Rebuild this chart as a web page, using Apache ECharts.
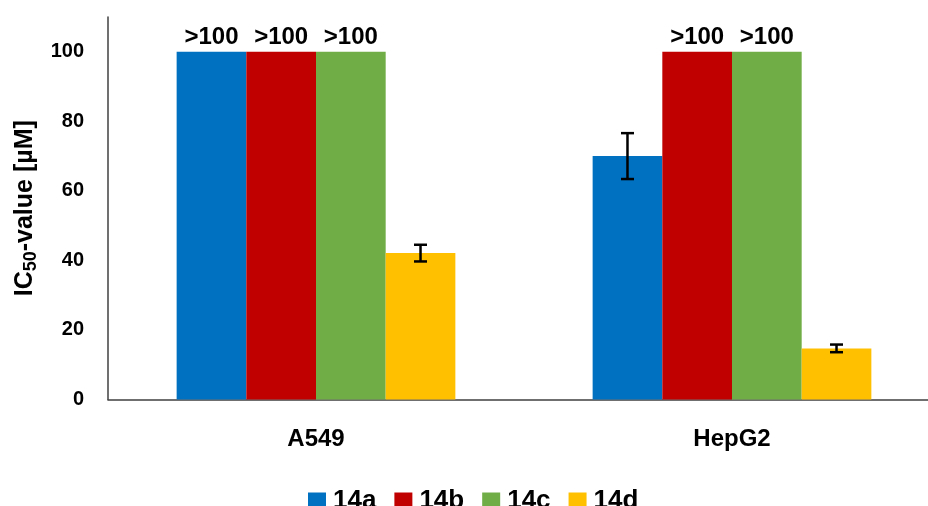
<!DOCTYPE html>
<html>
<head>
<meta charset="utf-8">
<script src="https://cdn.jsdelivr.net/npm/echarts@6/dist/echarts.min.js"></script>
<style>
  html, body { margin: 0; padding: 0; background: #fff; }
  #chart { width: 928px; height: 506px; }
</style>
</head>
<body>
<div id="chart"></div>
<script>
// Cell lines on the x axis
const categories = ['A549', 'HepG2'];
// Compounds (one bar series each)
const compounds = ['14a', '14b', '14c', '14d'];
const colors = ['#0070C0', '#C00000', '#70AD47', '#FFC000'];

// IC50 values in µM per cell line (100 = upper limit of the assay)
const values14a = [100, 70];
const values14b = [100, 100];
const values14c = [100, 100];
const values14d = [42.1, 14.7];

// Standard deviations (0 = no error bar)
const err14a = [0, 6.6];
const err14b = [0, 0];
const err14c = [0, 0];
const err14d = [2.4, 1.1];

// Text shown above bars that hit the upper limit
const label14a = ['>100', ''];
const label14b = ['>100', '>100'];
const label14c = ['>100', '>100'];
const label14d = ['', ''];

// Y axis ticks
const yMin = 0;
const yMax = 110;
const yStep = 20;

const allValues = [values14a, values14b, values14c, values14d];
const allErrors = [err14a, err14b, err14c, err14d];
const allLabels = [label14a, label14b, label14c, label14d];

const FONT = 'Liberation Sans';
const CAT_GAP = 0.33;

const barSeries = compounds.map((name, s) => ({
  name: name,
  type: 'bar',
  barGap: 0,
  barCategoryGap: (CAT_GAP * 100) + '%',
  itemStyle: { color: colors[s] },
  data: allValues[s],
  label: {
    show: true,
    position: 'top',
    distance: 2,
    fontFamily: FONT,
    fontWeight: 'bold',
    fontSize: 24,
    color: '#000',
    formatter: p => allLabels[s][p.dataIndex]
  },
  z: 2
}));

// Error bars: [category index, value, error, series index]
const errData = [];
compounds.forEach((name, s) => {
  categories.forEach((c, i) => {
    if (allErrors[s][i] > 0) errData.push([i, allValues[s][i], allErrors[s][i], s]);
  });
});

const errorSeries = {
  type: 'custom',
  name: 'error',
  data: errData,
  encode: { x: 0, y: 1 },
  z: 5,
  silent: true,
  renderItem: function (params, api) {
    const ci = api.value(0);
    const v = api.value(1);
    const e = api.value(2);
    const s = api.value(3);
    const band = api.size([1, 0])[0];
    const barW = band * (1 - CAT_GAP) / compounds.length;
    const center = api.coord([ci, v]);
    const x = center[0] + (s - (compounds.length - 1) / 2) * barW;
    const hi = api.coord([ci, v + e])[1];
    const lo = api.coord([ci, v - e])[1];
    const cap = 6.5;
    const style = { stroke: '#000', lineWidth: 2.5 };
    return {
      type: 'group',
      children: [
        { type: 'line', shape: { x1: x, y1: hi, x2: x, y2: lo }, style: style },
        { type: 'line', shape: { x1: x - cap, y1: hi, x2: x + cap, y2: hi }, style: style },
        { type: 'line', shape: { x1: x - cap, y1: lo, x2: x + cap, y2: lo }, style: style }
      ]
    };
  }
};

const chart = echarts.init(document.getElementById('chart'), null, { renderer: 'canvas' });
chart.setOption({
  backgroundColor: '#fff',
  animation: false,
  // The plot area runs slightly past the right edge of the canvas
  grid: { left: 108, width: 832, top: 17, bottom: 106.5, containLabel: false, outerBoundsMode: 'none' },
  legend: {
    data: compounds,
    left: 303,
    top: 483,
    icon: 'rect',
    itemWidth: 18,
    itemHeight: 17,
    itemGap: 18,
    textStyle: { fontFamily: FONT, fontWeight: 'bold', fontSize: 26, color: '#000', padding: [0, 0, 0, 2] }
  },
  xAxis: {
    type: 'category',
    data: categories,
    axisTick: { show: false },
    axisLine: { lineStyle: { color: '#404040', width: 1.5 } },
    axisLabel: { fontFamily: FONT, fontWeight: 'bold', fontSize: 24, color: '#000', margin: 28 }
  },
  yAxis: {
    type: 'value',
    min: yMin,
    max: yMax,
    interval: yStep,
    name: '{m|IC}{s|50}{m|-value [µM]}',
    nameLocation: 'middle',
    nameRotate: 90,
    nameGap: 65,
    nameTextStyle: {
      rich: {
        m: { fontFamily: FONT, fontWeight: 'bold', fontSize: 25, color: '#000' },
        s: { fontFamily: FONT, fontWeight: 'bold', fontSize: 18, color: '#000', verticalAlign: 'bottom', padding: [12, 0, 0, 0] }
      }
    },
    axisLine: { show: true, lineStyle: { color: '#404040', width: 1.5 } },
    axisTick: { show: false },
    splitLine: { show: false },
    axisLabel: { fontFamily: FONT, fontWeight: 'bold', fontSize: 20, color: '#000', margin: 24, showMaxLabel: false }
  },
  series: [...barSeries, errorSeries]
});
</script>
</body>
</html>
